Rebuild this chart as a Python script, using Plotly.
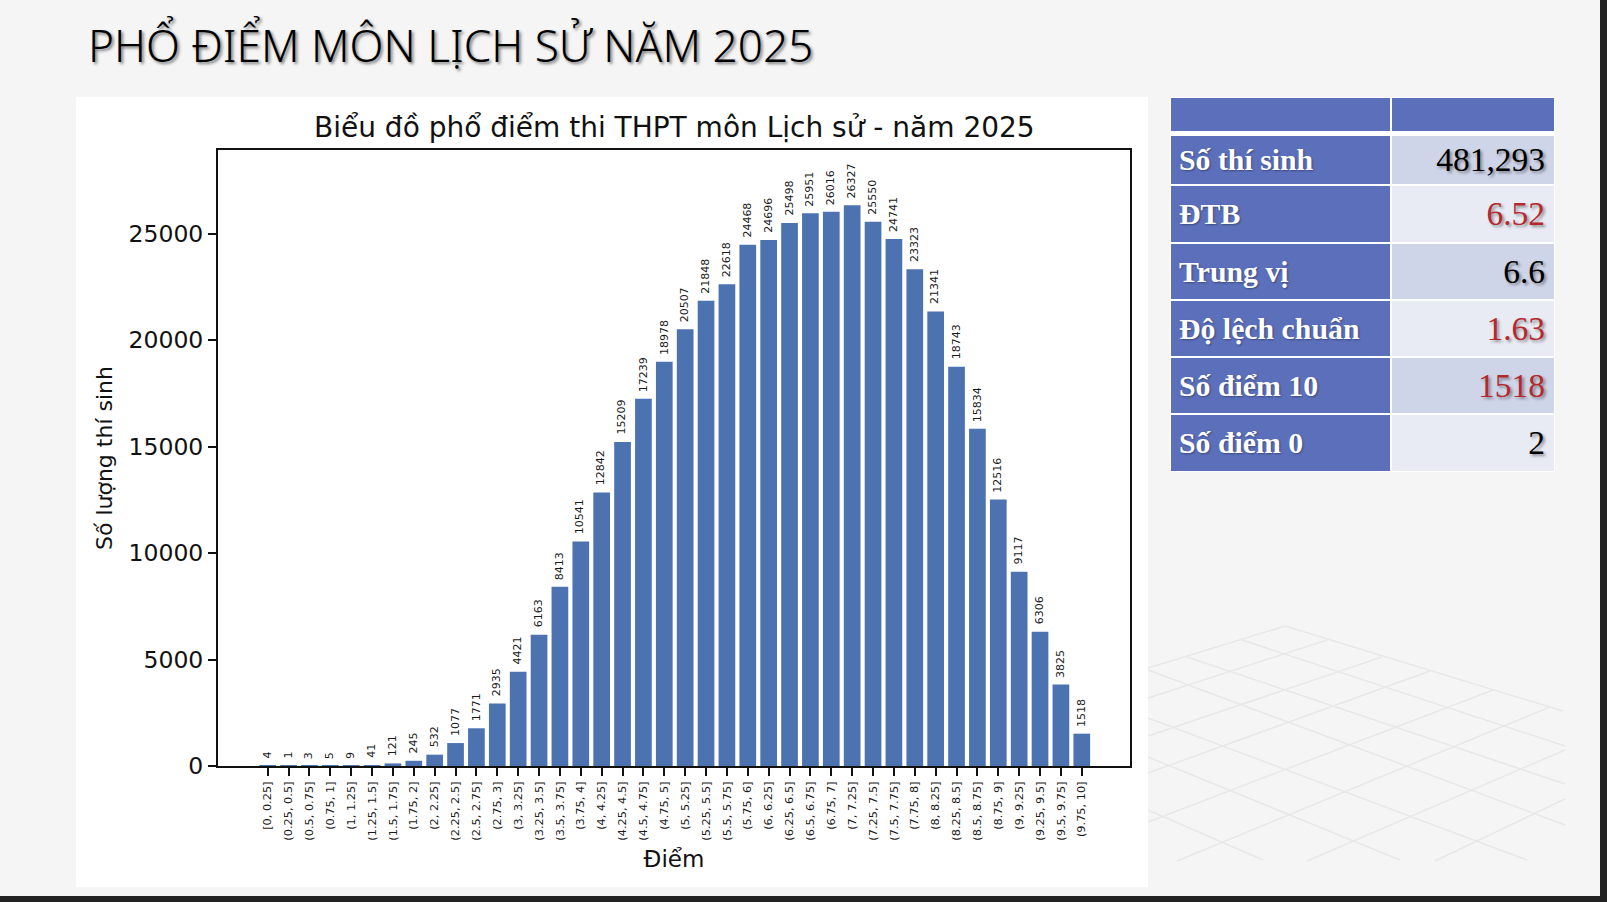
import plotly.graph_objects as go

W, H = 1607, 902

score_bins = [
    '[0, 0.25]', '(0.25, 0.5]', '(0.5, 0.75]', '(0.75, 1]', '(1, 1.25]', '(1.25, 1.5]', '(1.5, 1.75]', '(1.75, 2]',
    '(2, 2.25]', '(2.25, 2.5]', '(2.5, 2.75]', '(2.75, 3]', '(3, 3.25]', '(3.25, 3.5]', '(3.5, 3.75]', '(3.75, 4]',
    '(4, 4.25]', '(4.25, 4.5]', '(4.5, 4.75]', '(4.75, 5]', '(5, 5.25]', '(5.25, 5.5]', '(5.5, 5.75]', '(5.75, 6]',
    '(6, 6.25]', '(6.25, 6.5]', '(6.5, 6.75]', '(6.75, 7]', '(7, 7.25]', '(7.25, 7.5]', '(7.5, 7.75]', '(7.75, 8]',
    '(8, 8.25]', '(8.25, 8.5]', '(8.5, 8.75]', '(8.75, 9]', '(9, 9.25]', '(9.25, 9.5]', '(9.5, 9.75]', '(9.75, 10]',
]
student_counts = [
    4, 1, 3, 5, 9, 41, 121, 245, 532, 1077, 1771, 2935, 4421, 6163, 8413, 10541, 12842, 15209, 17239, 18978,
    20507, 21848, 22618, 24468, 24696, 25498, 25951, 26016, 26327, 25550, 24741, 23323, 21341, 18743, 15834,
    12516, 9117, 6306, 3825, 1518,
]
y_ticks = [0, 5000, 10000, 15000, 20000, 25000]

stat_names = ['Số thí sinh', 'ĐTB', 'Trung vị', 'Độ lệch chuẩn', 'Số điểm 10', 'Số điểm 0']
stat_values = ['481,293', '6.52', '6.6', '1.63', '1518', '2']
stat_colors = ['#000000', '#b5282e', '#000000', '#b5282e', '#b5282e', '#000000']
value_fills = ['#cfd5e8', '#e9ebf4', '#cfd5e8', '#e9ebf4', '#cfd5e8', '#e9ebf4']

# table grid in page pixels, the table axes use these same units
header_edges = [97, 132]
row_edges = [135, 185, 243, 300, 357, 414, 472]
col_edges = [1170, 1391, 1555]
header_fill = '#5b6fbb'

# decorative floor grid, page pixels
floor_lines = [
    (1148, 668, 1285, 626), (1148, 698, 1327, 640), (1148, 736, 1382, 657), (1148, 773, 1430, 671),
    (1148, 822, 1493, 690), (1177, 861, 1550, 707), (1307, 861, 1565, 750), (1435, 861, 1565, 799),
    (1285, 626, 1563, 711), (1242, 640, 1565, 746), (1187, 657, 1565, 784), (1148, 670, 1565, 825),
    (1148, 718, 1527, 860), (1148, 757, 1400, 860), (1148, 810, 1263, 860),
]


def px(x):
    return x / W


def py(y):
    return 1 - y / H


row_mid = [(a + b) / 2 for a, b in zip(row_edges[:-1], row_edges[1:])]
row_h = [b - a for a, b in zip(row_edges[:-1], row_edges[1:])]
text_mid = [m + 3 for m in row_mid]
n_rows = len(stat_names)

fig = go.Figure()

fig.add_trace(go.Bar(
    x=score_bins,
    y=student_counts,
    width=0.8,
    marker=dict(color='#4c72b0', line=dict(width=0)),
))

# table cells: horizontal bars on their own axes
cell_line = dict(color='white', width=2)
for i in range(2):
    col_w = col_edges[i + 1] - col_edges[i]
    fig.add_trace(go.Bar(
        orientation='h',
        y=[(header_edges[0] + header_edges[1]) / 2],
        x=[col_w],
        base=col_edges[i],
        width=header_edges[1] - header_edges[0],
        marker=dict(color=header_fill, line=cell_line),
        xaxis='x2', yaxis='y2', hoverinfo='skip',
    ))
    fig.add_trace(go.Bar(
        orientation='h',
        y=row_mid,
        x=[col_w] * n_rows,
        base=col_edges[i],
        width=row_h,
        marker=dict(color=[header_fill] * n_rows if i == 0 else value_fills, line=cell_line),
        xaxis='x2', yaxis='y2', hoverinfo='skip',
    ))

fig.add_trace(go.Scatter(
    x=[col_edges[0] + 9] * n_rows,
    y=text_mid,
    mode='text',
    text=stat_names,
    textposition='middle right',
    textfont=dict(family='Liberation Serif', size=29.8, color='white', weight=700,
                  shadow='1px 1px 2px rgba(0,0,0,0.35)'),
    xaxis='x2', yaxis='y2', hoverinfo='skip',
))
fig.add_trace(go.Scatter(
    x=[col_edges[2] - 10] * n_rows,
    y=text_mid,
    mode='text',
    text=stat_values,
    textposition='middle left',
    textfont=dict(family='Liberation Serif', size=33.5, color=stat_colors,
                  shadow='2px 2px 3px rgba(0,0,0,0.4)'),
    xaxis='x2', yaxis='y2', hoverinfo='skip',
))

shapes = [
    dict(type='rect', xref='paper', yref='paper', x0=px(76), x1=px(1148), y0=py(887), y1=py(97),
         fillcolor='white', line=dict(width=0), layer='below'),
    dict(type='rect', xref='paper', yref='paper', x0=0, x1=1, y0=0, y1=py(896),
         fillcolor='#222222', line=dict(width=0), layer='below'),
    dict(type='rect', xref='paper', yref='paper', x0=px(1600), x1=1, y0=0, y1=1,
         fillcolor='#222222', line=dict(width=0), layer='below'),
]
for x0, y0, x1, y1 in floor_lines:
    shapes.append(dict(type='line', xref='paper', yref='paper', x0=px(x0), y0=py(y0), x1=px(x1), y1=py(y1),
                       line=dict(color='#e8e8e8', width=1.5), layer='below'))

annotations = [
    dict(text='PHỔ ĐIỂM MÔN LỊCH SỬ NĂM 2025', xref='paper', yref='paper', x=px(86), y=py(45),
         xanchor='left', yanchor='middle', showarrow=False,
         font=dict(family='Noto Sans', size=44.2, color='black', weight=300, shadow='2px 2px 3px rgba(0,0,0,0.5)')),
    dict(text='Biểu đồ phổ điểm thi THPT môn Lịch sử - năm 2025', xref='paper', yref='paper', x=px(674.5), y=py(128),
         xanchor='center', yanchor='middle', showarrow=False,
         font=dict(family='DejaVu Sans', size=28, color='#111')),
]
# value labels above the bars
for label, count in zip(score_bins, student_counts):
    annotations.append(dict(
        x=label, y=count, xref='x', yref='y', text=str(count), textangle=-90,
        showarrow=False, yanchor='bottom', yshift=5, xshift=-0.5,
        font=dict(size=11, color='#1a1a1a', family='DejaVu Sans'),
    ))

fig.update_layout(
    width=W,
    height=H,
    autosize=False,
    margin=dict(l=0, r=0, t=0, b=0, autoexpand=False),
    paper_bgcolor='#f5f5f5',
    plot_bgcolor='white',
    showlegend=False,
    barmode='overlay',
    shapes=shapes,
    annotations=annotations,
    xaxis=dict(
        domain=[px(218), px(1130)],
        range=[-2.38, 41.31],
        type='category',
        categoryorder='array',
        categoryarray=score_bins,
        tickmode='array',
        tickvals=score_bins,
        ticktext=score_bins,
        tickangle=-90,
        tickfont=dict(family='DejaVu Sans', size=11.3, color='#1a1a1a'),
        ticklabelstandoff=1,
        ticks='outside',
        ticklen=8,
        tickwidth=2,
        tickcolor='#111',
        showgrid=False,
        zeroline=False,
        showline=True,
        linecolor='#111',
        linewidth=2,
        mirror=True,
        title=dict(text='Điểm', font=dict(family='DejaVu Sans', size=23, color='#111'), standoff=11),
    ),
    yaxis=dict(
        domain=[py(766), py(150)],
        range=[0, 28920],
        tickmode='array',
        tickvals=y_ticks,
        tickfont=dict(family='DejaVu Sans', size=23.5, color='#111'),
        tickformat='d',
        ticks='outside',
        ticklen=8,
        tickwidth=2,
        tickcolor='#111',
        showgrid=False,
        zeroline=False,
        showline=True,
        linecolor='#111',
        linewidth=2,
        mirror=True,
        title=dict(text='Số lượng thí sinh', font=dict(family='DejaVu Sans', size=22, color='#111'), standoff=10),
    ),
    xaxis2=dict(
        domain=[px(col_edges[0]), px(col_edges[-1])],
        range=[col_edges[0], col_edges[-1]],
        anchor='y2', visible=False, fixedrange=True,
    ),
    yaxis2=dict(
        domain=[py(row_edges[-1]), py(header_edges[0])],
        range=[row_edges[-1], header_edges[0]],
        anchor='x2', visible=False, fixedrange=True,
    ),
)

fig.write_html('out.html', config=dict(displayModeBar=False), post_script="document.body.style.margin='0';")
